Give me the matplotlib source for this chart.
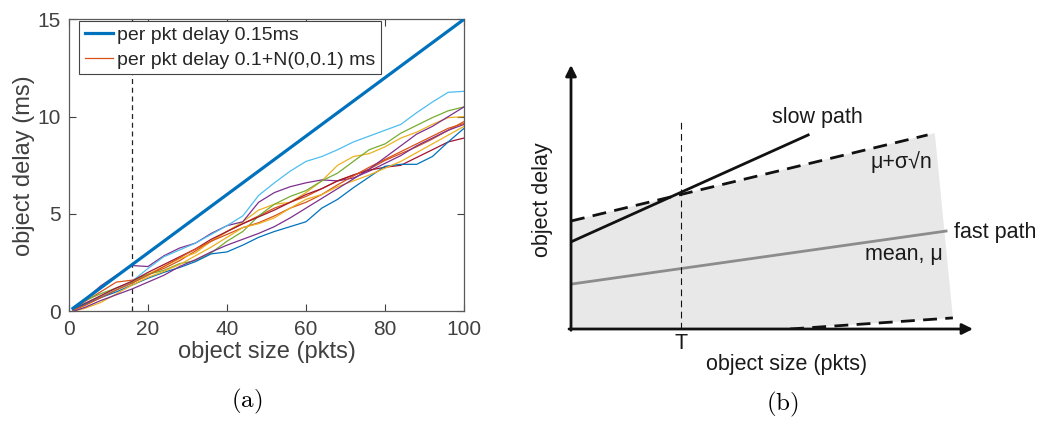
import matplotlib
matplotlib.use("Agg")
import matplotlib.pyplot as plt
import numpy as np

plt.rcParams['font.family'] = ['Liberation Sans', 'DejaVu Sans']
plt.rcParams['mathtext.fontset'] = 'cm'

# ---- panel (a) data ----
pkts = [1, 4, 8, 12, 16, 20, 24, 28, 32, 36, 40, 44, 48, 52, 56, 60, 64, 68, 72, 76, 80, 84, 88, 92, 96, 100]

const_x = [1, 100]
const_delay = [0.15, 15.0]

# noisy runs, in matlab plotting order
run_orange1 = [0.1, 0.5, 1.0, 1.5, 1.6, 1.9, 2.2, 2.6, 3.1, 3.6, 4.1, 4.5, 4.9, 5.3, 5.6, 5.9, 6.3, 6.7, 7.0, 7.3, 7.75, 8.1, 8.45, 8.85, 9.3, 9.75]
run_yellow1 = [0.05, 0.3, 0.7, 1.1, 1.45, 1.9, 2.3, 2.7, 3.0, 3.6, 4.1, 4.6, 5.2, 5.5, 5.6, 6.1, 6.7, 7.5, 7.95, 8.1, 8.45, 8.9, 9.2, 9.6, 9.95, 10.0]
run_purple1 = [0.2, 0.6, 1.3, 1.85, 2.35, 2.3, 2.85, 3.25, 3.5, 4.0, 4.4, 4.6, 5.6, 6.1, 6.4, 6.6, 6.75, 6.7, 6.85, 7.2, 7.6, 8.0, 8.5, 8.9, 9.3, 9.6]
run_green = [0.15, 0.55, 0.9, 1.2, 1.5, 1.9, 2.1, 2.45, 2.6, 3.0, 3.6, 4.1, 4.9, 5.5, 5.9, 6.2, 6.7, 7.1, 7.7, 8.3, 8.6, 9.15, 9.55, 9.95, 10.3, 10.5]
run_lightblue = [0.1, 0.4, 0.75, 1.1, 1.55, 2.2, 2.8, 3.15, 3.5, 3.95, 4.4, 4.9, 5.95, 6.6, 7.2, 7.7, 7.95, 8.3, 8.7, 9.0, 9.3, 9.6, 10.2, 10.75, 11.25, 11.3]
run_darkred = [0.1, 0.4, 0.8, 1.2, 1.55, 2.0, 2.4, 2.8, 3.2, 3.7, 4.1, 4.5, 4.85, 5.2, 5.6, 6.0, 6.3, 6.7, 7.0, 7.25, 7.4, 7.5, 7.9, 8.3, 8.7, 8.9]
run_blue = [0.1, 0.35, 0.7, 1.0, 1.35, 1.7, 2.0, 2.25, 2.55, 2.95, 3.05, 3.4, 3.8, 4.1, 4.35, 4.6, 5.3, 5.75, 6.35, 6.9, 7.45, 7.55, 7.55, 7.95, 8.7, 9.4]
run_orange2 = [0.05, 0.3, 0.7, 1.1, 1.45, 1.85, 2.3, 2.75, 3.2, 3.6, 3.95, 4.3, 4.55, 4.9, 5.3, 5.6, 6.0, 6.5, 6.95, 7.4, 7.8, 8.2, 8.6, 9.0, 9.4, 9.65]
run_yellow2 = [0.0, 0.15, 0.45, 0.9, 1.35, 1.75, 2.05, 2.4, 2.85, 3.3, 3.8, 4.3, 4.5, 4.8, 5.3, 5.75, 6.0, 6.4, 6.7, 7.0, 7.35, 7.7, 8.15, 8.6, 9.05, 9.5]
run_purple2 = [0.0, 0.2, 0.55, 0.85, 1.15, 1.5, 1.85, 2.3, 2.65, 3.05, 3.4, 3.7, 4.0, 4.35, 4.8, 5.3, 5.8, 6.3, 6.8, 7.3, 7.9, 8.5, 9.1, 9.5, 10.0, 10.5]

runs = [run_orange1, run_yellow1, run_purple1, run_green, run_lightblue,
        run_darkred, run_blue, run_orange2, run_yellow2, run_purple2]
matlab_colors = ['#D95319', '#EDB120', '#7E2F8E', '#77AC30', '#4DBEEE',
                 '#A2142F', '#0072BD', '#D95319', '#EDB120', '#7E2F8E']

threshold_pkts = 16
x_ticks = [0, 20, 40, 60, 80, 100]
y_ticks = [0, 5, 10, 15]

# ---- panel (b) schematic (unit box) ----
slow_x = [0.0, 0.59]
slow_y = [0.33, 0.735]
upper_x = [0.0, 0.887]
upper_y = [0.409, 0.735]
lower_x = [0.545, 0.95]
lower_y = [0.0, 0.042]
mean_x = [0.0, 0.933]
mean_y = [0.17, 0.371]
band_x = [0.0, 0.0, 0.905, 0.95, 0.545]
band_y = [0.0, 0.409, 0.742, 0.042, 0.0]
T_pos = 0.274

fig = plt.figure(figsize=(10.54, 4.21), dpi=100)

# ---------------- (a) ----------------
txt = '#404040'
ax = fig.add_axes([69 / 1054, 1 - 311.3 / 421, 395 / 1054, 292 / 421])
ax.plot(const_x, const_delay, color='#0072BD', lw=2.3, label='per pkt delay 0.15ms', zorder=3)
for i, (run, c) in enumerate(zip(runs, matlab_colors)):
    ax.plot(pkts, run, color=c, lw=0.9,
            label='per pkt delay 0.1+N(0,0.1) ms' if i == 0 else None)
ax.axvline(threshold_pkts, color='#222222', lw=0.9, ls=(0, (4, 3)), zorder=1)

ax.set_xlim(0, 100)
ax.set_ylim(0, 15)
ax.set_xticks(x_ticks)
ax.set_yticks(y_ticks)
ax.tick_params(direction='in', top=True, right=True, labelsize=15, colors=txt,
               length=5, width=0.8, pad=6)
for s in ax.spines.values():
    s.set_color('#5a5a5a')
    s.set_linewidth(0.9)
ax.set_xlabel('object size (pkts)', fontsize=17, color=txt, labelpad=2)
ax.set_ylabel('object delay (ms)', fontsize=17, color=txt, labelpad=2)

leg = ax.legend(loc='upper left', bbox_to_anchor=(0.025, 0.995), borderaxespad=0,
                fontsize=14, fancybox=False, framealpha=1, edgecolor='#444444',
                handlelength=1.45, handletextpad=0.2, borderpad=0.3, labelspacing=0.35)
leg.get_frame().set_linewidth(0.8)
for t in leg.get_texts():
    t.set_color('#262626')
leg.set_zorder(5)

fig.text(247 / 1054, 1 - 401 / 421, r'$\mathrm{(a)}$', ha='center', va='center', fontsize=18)

# ---------------- (b) ----------------
bx = fig.add_axes([571 / 1054, 1 - 329 / 421, 402 / 1054, 264 / 421])
bx.set_xlim(0, 1)
bx.set_ylim(0, 1)
bx.axis('off')

bx.fill(band_x, band_y, color='#e8e8e8', lw=0, zorder=0)
bx.plot(mean_x, mean_y, color='#8c8c8c', lw=2, zorder=2)
bx.plot(upper_x, upper_y, color='#111111', lw=2, ls=(0, (5, 3)), zorder=3)
bx.plot(lower_x, lower_y, color='#111111', lw=2, ls=(0, (5, 3)), zorder=3)
bx.plot(slow_x, slow_y, color='#111111', lw=2, zorder=3)
bx.plot([T_pos, T_pos], [0, 0.788], color='#111111', lw=0.8, ls=(0, (6, 4)), zorder=2)

arrow = dict(arrowstyle='-|>', color='#111111', lw=2, mutation_scale=16, shrinkA=0, shrinkB=0)
bx.annotate('', xy=(0, 1.0), xytext=(0, -0.005), arrowprops=arrow, annotation_clip=False)
bx.annotate('', xy=(1.0, 0), xytext=(-0.005, 0), arrowprops=arrow, annotation_clip=False)

dark = '#1a1a1a'
bfs = 15.5
bx.text(0.614, 0.80, 'slow path', ha='center', va='center', fontsize=bfs, color=dark)
bx.text(0.823, 0.633, 'μ+σ√n', ha='center', va='center', fontsize=bfs, color=dark)
bx.text(0.952, 0.366, 'fast path', ha='left', va='center', fontsize=bfs, color=dark)
bx.text(0.827, 0.284, 'mean, μ', ha='center', va='center', fontsize=bfs, color=dark)
bx.text(T_pos, -0.055, 'T', ha='center', va='center', fontsize=bfs, color=dark)
bx.text(0.537, -0.136, 'object size (pkts)', ha='center', va='center', fontsize=bfs, color=dark)
bx.text(-0.072, 0.489, 'object delay', ha='center', va='center', rotation=90,
        fontsize=bfs, color=dark)

fig.text(782 / 1054, 1 - 404 / 421, r'$\mathrm{(b)}$', ha='center', va='center', fontsize=18)

fig.savefig('out.png', dpi=100)
